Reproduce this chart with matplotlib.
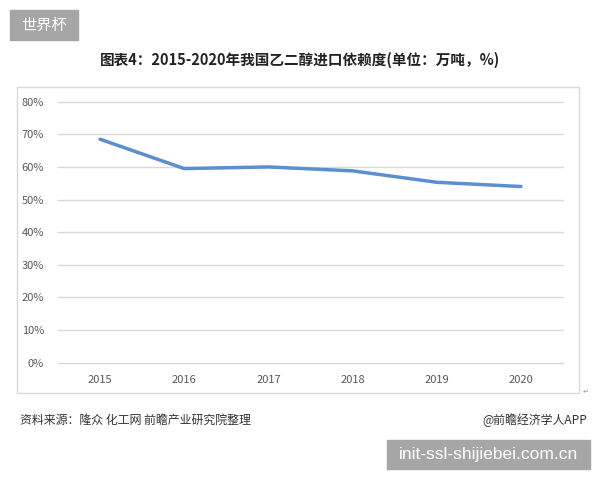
import matplotlib.pyplot as plt
from matplotlib.patches import Rectangle

plt.rcParams['font.family'] = ['Noto Sans CJK SC', 'DejaVu Sans']

# data
years = ['2015', '2016', '2017', '2018', '2019', '2020']
dependency = [0.685, 0.595, 0.600, 0.588, 0.553, 0.540]
y_ticks = [0, 0.1, 0.2, 0.3, 0.4, 0.5, 0.6, 0.7, 0.8]

fig = plt.figure(figsize=(6, 4.8), dpi=100)

# outer chart frame
fig.patches.append(Rectangle((17 / 600, 1 - 393 / 480), 562 / 600, 306 / 480,
                             transform=fig.transFigure, fill=False,
                             edgecolor='#d9d9d9', linewidth=1))

ax = fig.add_axes([58 / 600, 1 - 362.7 / 480, 505 / 600, 261 / 480])
x = range(len(years))
ax.plot(x, dependency, color='#5b8fd0', linewidth=2.5, solid_capstyle='round')

ax.set_xlim(-0.5, len(years) - 0.5)
ax.set_ylim(0, 0.8)
ax.set_yticks(y_ticks)
ax.set_yticklabels([f'{int(round(v * 100))}%' for v in y_ticks])
ax.set_xticks(list(x))
ax.set_xticklabels(years)
ax.tick_params(axis='both', length=0, labelsize=8, labelcolor='#595959')
ax.tick_params(axis='y', pad=10)
ax.tick_params(axis='x', pad=9)
ax.grid(axis='y', color='#d9d9d9', linewidth=1)
for gl in ax.get_ygridlines():
    gl.set_clip_on(False)
ax.set_axisbelow(True)
for s in ax.spines.values():
    s.set_visible(False)

# title
fig.text(0.5, 1 - 60 / 480, '图表4：2015-2020年我国乙二醇进口依赖度(单位：万吨，%)',
         ha='center', va='center', fontsize=10.5, fontweight='bold', color='#222222')

# top-left badge
fig.patches.append(Rectangle((10 / 600, 1 - 40 / 480), 68 / 600, 30 / 480,
                             transform=fig.transFigure, color='#a6a6a6'))
fig.text(44 / 600, 1 - 25 / 480, '世界杯', ha='center', va='center',
         fontsize=11, color='white')

# source notes
fig.text(20 / 600, 1 - 420 / 480, '资料来源：隆众 化工网 前瞻产业研究院整理',
         ha='left', va='center', fontsize=8.6, color='#333333')
fig.text(587 / 600, 1 - 420 / 480, '@前瞻经济学人APP',
         ha='right', va='center', fontsize=8.6, color='#333333')
fig.text(583 / 600, 1 - 392 / 480, '↵', ha='left', va='center',
         fontsize=5, color='#999999', family=['DejaVu Sans'])

# bottom-right badge
fig.patches.append(Rectangle((387 / 600, 1 - 469 / 480), 203 / 600, 29 / 480,
                             transform=fig.transFigure, color='#a6a6a6'))
fig.text(488 / 600, 1 - 455 / 480, 'init-ssl-shijiebei.com.cn', ha='center',
         va='center', fontsize=12.5, color='white', family=['Liberation Sans'])

fig.savefig('out.png', dpi=100)
